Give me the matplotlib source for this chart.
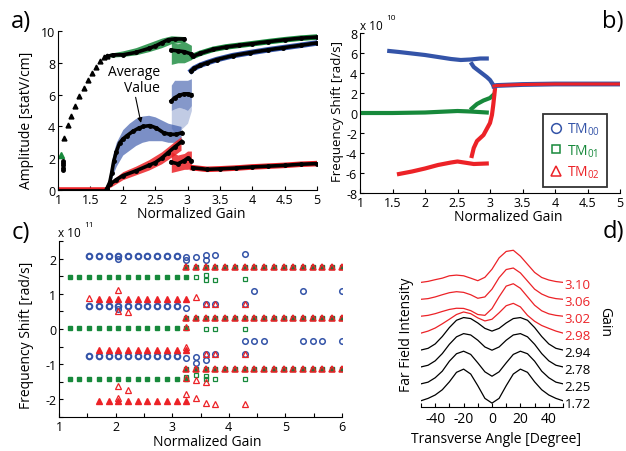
import matplotlib
matplotlib.use("Agg")
import matplotlib.pyplot as plt
from matplotlib.lines import Line2D

plt.rcParams["font.family"] = ["Open Sans", "DejaVu Sans"]
plt.rcParams["mathtext.fontset"] = "custom"
plt.rcParams["mathtext.rm"] = "Open Sans"
plt.rcParams["axes.unicode_minus"] = False

BLUE = "#3454a8"
GREEN = "#17893b"
RED = "#ec2227"

# ---------------- panel a: mode amplitudes ----------------
a_zero_g = [1.0, 1.75]
a_zero_v = [0.0, 0.0]
a_start_g = [1.08, 1.08, 1.08, 1.08, 1.08]
a_start_v = [1.25, 1.4, 1.55, 1.7, 1.85]

# TM01 (top curve)
a_tri_g = [1.10, 1.15, 1.20, 1.27, 1.33, 1.40, 1.46, 1.53, 1.59, 1.65, 1.71, 1.76]
a_tri_v = [3.3, 4.1, 4.65, 5.3, 5.9, 6.4, 6.9, 7.35, 7.75, 8.1, 8.35, 8.45]
a01_g1 = [1.76, 1.85, 2.0, 2.2, 2.4, 2.5, 2.6, 2.7, 2.8, 2.95]
a01_v1 = [8.4, 8.5, 8.5, 8.65, 8.9, 9.05, 9.25, 9.45, 9.5, 9.5]
a01_cg1 = [1.8, 2.0, 2.2, 2.4, 2.6, 2.75, 2.95]
a01_up1 = [8.6, 8.75, 8.95, 9.25, 9.55, 9.7, 9.65]
a01_lo1 = [8.35, 8.4, 8.5, 8.7, 8.95, 9.2, 9.3]
a01_g2 = [2.75, 2.85, 2.95, 3.06]
a01_v2 = [8.8, 8.75, 8.7, 8.55]
a01_up2 = [9.25, 9.2, 9.35, 9.1]
a01_lo2 = [7.9, 8.0, 8.0, 8.2]
a01_g3 = [3.08, 3.2, 3.4, 3.6, 3.8, 4.0, 4.25, 4.5, 4.75, 5.0]
a01_v3 = [8.4, 8.6, 8.85, 9.0, 9.1, 9.2, 9.33, 9.45, 9.55, 9.62]

# TM00 (middle curve)
a00_g1 = [1.75, 1.80, 1.83, 1.86, 1.90, 1.95, 2.00, 2.06, 2.16, 2.25, 2.32,
          2.42, 2.52, 2.63, 2.73, 2.83, 2.91]
a00_v1 = [0.05, 0.5, 1.1, 1.8, 2.4, 2.95, 3.2, 3.4, 3.7, 3.9, 4.0,
          4.05, 3.9, 3.6, 3.5, 3.5, 3.6]
a00_cg1 = [1.78, 1.85, 1.9, 2.0, 2.1, 2.2, 2.3, 2.4, 2.5, 2.6, 2.7, 2.8, 2.9]
a00_up1 = [0.6, 2.3, 3.0, 3.8, 4.2, 4.5, 4.65, 4.7, 4.6, 4.4, 4.2, 4.1, 4.0]
a00_lo1 = [0.1, 1.0, 1.5, 2.2, 2.5, 2.8, 3.0, 3.1, 3.1, 3.1, 3.0, 3.0, 3.1]
a00_g2 = [2.75, 2.80, 2.87, 2.95, 3.00, 3.06]
a00_v2 = [5.6, 5.8, 5.95, 6.05, 6.05, 6.0]
a00_up2 = [6.6, 6.9, 6.9, 6.9, 6.9, 7.0]
a00_mid2 = [5.0, 5.1, 5.2, 5.1, 5.0, 5.3]
a00_lo2 = [3.9, 3.6, 3.7, 4.0, 4.2, 5.0]
a00_g3 = [3.06, 3.10, 3.20, 3.30, 3.45, 3.70, 3.97, 4.25, 4.48, 4.75, 5.0]
a00_v3 = [7.5, 7.65, 7.85, 8.0, 8.2, 8.45, 8.64, 8.82, 8.95, 9.1, 9.25]

# TM02 (bottom curve)
a02_g1 = [1.75, 1.80, 1.90, 2.00, 2.20, 2.40, 2.50, 2.60, 2.70, 2.80, 2.91]
a02_v1 = [0.05, 0.35, 0.65, 0.9, 1.2, 1.55, 1.72, 2.0, 2.35, 2.7, 3.05]
a02_cg1 = [1.78, 2.0, 2.2, 2.4, 2.6, 2.8, 2.9]
a02_up1 = [0.45, 1.15, 1.5, 1.9, 2.4, 3.05, 3.35]
a02_lo1 = [0.1, 0.65, 0.95, 1.25, 1.65, 2.2, 2.5]
a02_g2 = [2.75, 2.85, 2.95, 3.0, 3.06]
a02_v2 = [1.75, 1.65, 1.85, 2.0, 1.85]
a02_up2 = [2.4, 2.2, 2.3, 2.45, 2.45]
a02_lo2 = [1.1, 1.2, 1.3, 1.3, 1.35]
a02_g3 = [3.08, 3.3, 3.5, 3.75, 4.0, 4.25, 4.5, 4.75, 5.0]
a02_v3 = [1.4, 1.3, 1.33, 1.38, 1.45, 1.5, 1.55, 1.62, 1.66]

# ---------------- panel b: frequency shift (x 1e10 rad/s) ----------------
b00_g1 = [1.45, 1.6, 1.8, 2.0, 2.2, 2.4, 2.55, 2.7, 2.85, 2.95]
b00_v1 = [6.2, 6.1, 5.95, 5.8, 5.6, 5.4, 5.3, 5.35, 5.45, 5.45]
b00_g2 = [2.72, 2.75, 2.8, 2.85, 2.9, 2.95, 3.0, 3.03, 3.06]
b00_v2 = [4.9, 4.6, 4.35, 4.1, 3.85, 3.6, 3.3, 3.0, 2.7]
b01_g1 = [1.0, 1.5, 2.0, 2.5, 2.7, 2.95]
b01_v1 = [0.0, 0.0, 0.05, 0.2, 0.15, 0.05]
b01_g2 = [2.72, 2.8, 2.9, 3.0, 3.05]
b01_v2 = [0.45, 0.9, 1.25, 1.5, 1.8]
b02_g1 = [1.6, 1.8, 2.0, 2.2, 2.4, 2.5, 2.6, 2.75, 2.95]
b02_v1 = [-6.1, -5.85, -5.55, -5.2, -4.95, -4.85, -4.95, -5.1, -5.05]
b02_g2 = [2.72, 2.75, 2.8, 2.9, 2.95, 3.0, 3.03, 3.05, 3.08]
b02_v2 = [-4.3, -3.5, -2.8, -2.2, -1.6, -1.0, -0.2, 0.8, 2.6]
b_lock_g = [3.06, 3.1, 3.5, 4.0, 4.5, 5.0]
b_lock_v = [2.7, 2.75, 2.85, 2.9, 2.9, 2.9]

# ---------------- panel c: frequency shift (x 1e11 rad/s) ----------------
c_gain = [1.19, 1.36, 1.53, 1.70, 1.88, 2.05, 2.22, 2.39, 2.56, 2.73, 2.90,
          3.08, 3.25, 3.42, 3.59, 3.76, 3.94, 4.11, 4.28, 4.45, 4.62, 4.80,
          4.97, 5.14, 5.31, 5.48, 5.65, 5.82, 6.00]
c00_levels = [2.08, 0.65, -0.78]
c01_levels = [1.48, 0.02, -1.43]
c02_levels = [0.85, -0.60, -2.05]
c_lock_levels = [1.75, 0.30, -1.15]
c00_xg = [2.05, 2.05, 3.25, 3.25, 3.25, 3.25, 3.42, 3.42, 3.42, 3.59, 3.59,
          3.59, 3.59, 3.59, 3.76, 3.76, 3.76, 4.28, 4.28, 4.28, 4.28, 4.45,
          4.45, 4.62, 5.31, 5.31, 5.48, 5.65, 6.00, 6.00]
c00_xf = [2.00, 0.58, 2.05, 1.95, 0.60, -0.82, 2.05, -0.80, -0.98, 2.10, 1.97,
          0.70, -0.70, -0.88, 2.10, 0.70, -0.70, 2.12, 0.70, -0.70, -0.34, 1.07,
          -0.34, -0.34, 1.07, -0.34, -0.34, -0.34, 1.07, -0.34]
c01_xg = [3.25, 3.42, 3.42, 3.59, 3.59, 3.59, 3.59, 3.59, 3.76, 3.76, 3.76,
          4.28, 4.28, 4.28]
c01_xf = [-1.36, 1.48, -1.30, 1.54, 1.40, 0.00, -1.34, -1.43, 1.40, 0.00,
          -1.42, 1.41, 0.00, -1.42]
c02_xg = [1.53, 2.05, 2.05, 2.05, 2.05, 2.22, 2.22, 3.25, 3.25, 3.25, 3.25,
          3.42, 3.42, 3.42, 3.59, 3.59, 3.59, 3.59, 3.76, 3.76, 3.76, 4.28,
          4.28, 4.28]
c02_xf = [0.88, 1.10, 0.50, -1.62, -1.95, 0.48, -1.72, 0.07, -0.50, -1.40,
          -1.85, 0.90, -1.45, -1.95, 0.70, -0.70, -1.50, -2.10, 0.70, -0.70,
          -2.12, 0.70, -0.70, -2.12]

# ---------------- panel d: far field profiles ----------------
d_angle = [-50, -45, -40, -35, -30, -25, -20, -15, -10, -5, 0,
           5, 10, 15, 20, 25, 30, 35, 40, 45, 50]
d_gain_labels = ["1.72", "2.25", "2.78", "2.94", "2.98", "3.02", "3.06", "3.10"]
d_profiles = [
    [0, 0.14, 0.34, 0.65, 1.12, 1.68, 1.87, 1.58, 0.89, 0.14, -0.14,
     0.14, 0.89, 1.58, 1.87, 1.68, 1.12, 0.65, 0.34, 0.14, 0],
    [0, 0.10, 0.36, 0.75, 1.34, 1.78, 1.93, 1.74, 1.24, 0.71, 0.45,
     0.71, 1.24, 1.74, 1.93, 1.78, 1.34, 0.75, 0.36, 0.10, 0],
    [0, 0.10, 0.36, 0.79, 1.34, 1.78, 1.97, 1.89, 1.58, 1.18, 0.99,
     1.18, 1.58, 1.89, 1.97, 1.78, 1.34, 0.79, 0.36, 0.10, 0],
    [0, 0.10, 0.36, 0.80, 1.33, 1.76, 1.92, 1.86, 1.60, 1.28, 1.12,
     1.28, 1.60, 1.86, 1.92, 1.76, 1.33, 0.80, 0.36, 0.10, 0],
    [0, 0.12, 0.30, 0.55, 0.82, 1.10, 1.25, 1.15, 0.90, 0.72, 0.82,
     1.20, 1.62, 1.76, 1.55, 1.05, 0.70, 0.45, 0.28, 0.12, 0],
    [0, 0.05, 0.15, 0.28, 0.40, 0.47, 0.46, 0.33, 0.10, 0.05, 0.45,
     1.15, 1.78, 1.92, 1.65, 1.15, 0.65, 0.32, 0.14, 0.05, 0],
    [0, 0.04, 0.14, 0.27, 0.39, 0.45, 0.41, 0.27, 0.06, 0.14, 0.60,
     1.28, 1.76, 1.85, 1.56, 1.08, 0.60, 0.31, 0.13, 0.04, 0],
    [0, 0.06, 0.16, 0.25, 0.39, 0.43, 0.39, 0.25, 0.10, 0.30, 0.78,
     1.45, 1.83, 1.90, 1.55, 1.07, 0.59, 0.29, 0.14, 0.05, 0],
]
d_colors = ["black", "black", "black", "black", RED, RED, RED, RED]

W, H = 626, 452


def px_rect(l, t, r, b):
    return [l / W, 1 - b / H, (r - l) / W, (b - t) / H]


def style(ax):
    for s in ["top", "right"]:
        ax.spines[s].set_visible(False)
    for s in ["left", "bottom"]:
        ax.spines[s].set_linewidth(0.8)
    ax.tick_params(which="both", direction="in", length=3, width=0.8,
                   labelsize=9, pad=2)


fig = plt.figure(figsize=(6.26, 4.52), dpi=100)

# ---- a ----
ax = fig.add_axes(px_rect(58, 32, 317, 191))
style(ax)
ax.fill_between(a01_cg1, a01_lo1, a01_up1, color=GREEN, lw=0, alpha=0.85)
ax.fill_between(a01_g2, a01_lo2, a01_up2, color=GREEN, lw=0, alpha=0.8)
ax.fill_between(a00_cg1, a00_lo1, a00_up1, color=BLUE, lw=0, alpha=0.65)
ax.fill_between(a00_g2, a00_mid2, a00_up2, color=BLUE, lw=0, alpha=0.6)
ax.fill_between(a00_g2, a00_lo2, a00_mid2, color=BLUE, lw=0, alpha=0.3)
ax.fill_between(a02_cg1, a02_lo1, a02_up1, color=RED, lw=0, alpha=0.85)
ax.fill_between(a02_g2, a02_lo2, a02_up2, color=RED, lw=0, alpha=0.85)
ax.plot(a01_g3, a01_v3, color=GREEN, lw=4)
ax.plot(a00_g3, a00_v3, color=BLUE, lw=4)
ax.plot(a02_g3, a02_v3, color=RED, lw=4)
ax.plot(a_zero_g, a_zero_v, color=RED, lw=4)
ax.plot(a_zero_g, a_zero_v, color="black", lw=2)
ax.plot([1.05], [2.2], ls="none", marker="^", ms=4, color=GREEN)
ax.plot(a_start_g, a_start_v, ls="none", marker="o", ms=2.5, color="black")
ax.plot(a_tri_g, a_tri_v, ls="none", marker="^", ms=3.5, color="black")
for g, v in [(a01_g1, a01_v1), (a01_g2, a01_v2), (a01_g3, a01_v3),
             (a00_g1, a00_v1), (a00_g2, a00_v2), (a00_g3, a00_v3),
             (a02_g1, a02_v1), (a02_g2, a02_v2), (a02_g3, a02_v3)]:
    ax.plot(g, v, color="black", lw=2.6, marker="o", ms=2.5)
ax.text(2.575, 6.95, "Average\nValue", ha="right", va="center",
        multialignment="right", fontsize=10, linespacing=1.15)
ax.annotate("", xy=(2.29, 4.05), xytext=(2.19, 6.0),
            arrowprops=dict(arrowstyle="-|>", color="black", lw=0.8,
                            mutation_scale=7))
ax.set_xlim(1, 5)
ax.set_ylim(0, 10)
ax.set_xticks([1, 1.5, 2, 2.5, 3, 3.5, 4, 4.5, 5])
ax.set_xticklabels(["1", "1.5", "2", "2.5", "3", "3.5", "4", "4.5", "5"])
ax.set_yticks([0, 2, 4, 6, 8, 10])

# ---- b ----
ax = fig.add_axes(px_rect(360, 34, 620, 194))
style(ax)
ax.plot(b00_g1, b00_v1, color=BLUE, lw=3)
ax.plot(b00_g2, b00_v2, color=BLUE, lw=3)
ax.plot(b01_g1, b01_v1, color=GREEN, lw=3)
ax.plot(b01_g2, b01_v2, color=GREEN, lw=3)
ax.plot(b02_g1, b02_v1, color=RED, lw=3)
ax.plot(b02_g2, b02_v2, color=RED, lw=3)
ax.plot(b_lock_g, b_lock_v, color=BLUE, lw=3.5)
ax.plot(b_lock_g, b_lock_v, color=RED, lw=2.2)
ax.set_xlim(1, 5)
ax.set_ylim(-8, 8)
ax.set_xticks([1, 1.5, 2, 2.5, 3, 3.5, 4, 4.5, 5])
ax.set_xticklabels(["1", "1.5", "2", "2.5", "3", "3.5", "4", "4.5", "5"])
ax.set_yticks([-8, -6, -4, -2, 0, 2, 4, 6, 8])
handles = [Line2D([], [], ls="none", marker="o", mfc="none", mec=BLUE, ms=7, mew=1.1),
           Line2D([], [], ls="none", marker="s", mfc="none", mec=GREEN, ms=6, mew=1.1),
           Line2D([], [], ls="none", marker="^", mfc="none", mec=RED, ms=7, mew=1.1)]
leg = ax.legend(handles, [r"TM$_{\mathregular{00}}$", r"TM$_{\mathregular{01}}$",
                          r"TM$_{\mathregular{02}}$"],
                loc="upper left", bbox_to_anchor=(0.704, 0.494), fontsize=10,
                labelcolor=[BLUE, GREEN, RED], frameon=True, fancybox=False,
                handlelength=0.8, handletextpad=0.4, borderpad=0.5,
                labelspacing=0.35, borderaxespad=0)
leg.get_frame().set_edgecolor("black")
leg.get_frame().set_linewidth(1.3)

# ---- c ----
ax = fig.add_axes(px_rect(59, 242, 342, 418))
style(ax)
for lv in c01_levels:
    ax.plot(c_gain[0:13], [lv] * 13, ls="none", marker="s", ms=3.5,
            mfc=GREEN, mec=GREEN)
for lv in c_lock_levels:
    n = len(c_gain[12:])
    ax.plot(c_gain[12:], [lv] * n, ls="none", marker="s", ms=3.5,
            mfc="#2a6e3a", mec="#2a6e3a")
ax.plot(c01_xg, c01_xf, ls="none", marker="s", ms=3.2, mfc="none",
        mec=GREEN, mew=0.9)
for lv in c00_levels:
    ax.plot(c_gain[2:12], [lv] * 10, ls="none", marker="o", ms=4,
            mfc="none", mec=BLUE, mew=1.5)
ax.plot(c00_xg, c00_xf, ls="none", marker="o", ms=4, mfc="none",
        mec=BLUE, mew=1.1)
for lv in c02_levels:
    ax.plot(c_gain[3:13], [lv] * 10, ls="none", marker="^", ms=5,
            mfc=RED, mec=RED)
for lv in c_lock_levels:
    n = len(c_gain[12:])
    ax.plot(c_gain[12:], [lv] * n, ls="none", marker="^", ms=5,
            mfc="none", mec=RED, mew=1.1)
ax.plot(c02_xg, c02_xf, ls="none", marker="^", ms=4.5, mfc="none",
        mec=RED, mew=0.9)
ax.set_xlim(1, 6)
ax.set_ylim(-2.5, 2.5)
ax.set_xticks([1, 2, 3, 4, 5, 6])
ax.set_xticks([1.5, 2.5, 3.5, 4.5, 5.5], minor=True)
ax.set_yticks([-2, -1, 0, 1, 2])
ax.set_yticks([-2.5, -1.5, -0.5, 0.5, 1.5, 2.5], minor=True)

# ---- d ----
ax = fig.add_axes(px_rect(421, 245, 563, 408))
for s in ["top", "right", "left"]:
    ax.spines[s].set_visible(False)
ax.spines["bottom"].set_linewidth(0.8)
for i, (prof, col, lab) in enumerate(zip(d_profiles, d_colors, d_gain_labels)):
    ax.plot(d_angle, [p + i for p in prof], color=col, lw=0.9)
    ax.text(51.0, i - 0.15, lab, color=col, fontsize=9.5, ha="left",
            va="center", clip_on=False)
ax.set_xlim(-50, 50)
ax.set_ylim(-0.37, 9.27)
ax.set_yticks([])
ax.set_xticks(list(range(-50, 51, 10)))
ax.set_xticklabels(["", "-40", "", "-20", "", "0", "", "20", "", "40", ""])
ax.tick_params(direction="in", length=3, width=0.8, labelsize=10, pad=3)

# ---- labels ----
lab = dict(ha="center", va="center", fontsize=10)
fig.text(27 / W, 1 - 120 / H, "Amplitude [statV/cm]", rotation=90, **lab)
fig.text(191 / W, 1 - 215 / H, "Normalized Gain", **lab)
fig.text(337 / W, 1 - 112 / H, "Frequency Shift [rad/s]", rotation=90,
         ha="center", va="center", fontsize=9.5)
fig.text(508 / W, 1 - 218 / H, "Normalized Gain", **lab)
fig.text(27 / W, 1 - 335 / H, "Frequency Shift [rad/s]", rotation=90, **lab)
fig.text(207 / W, 1 - 443 / H, "Normalized Gain", **lab)
fig.text(407 / W, 1 - 335 / H, "Far Field Intensity", rotation=90, **lab)
fig.text(496 / W, 1 - 440 / H, "Transverse Angle [Degree]", **lab)
fig.text(605 / W, 1 - 322 / H, "Gain", rotation=-90, **lab)

fig.text(360 / W, 1 - 27 / H, "x 10", fontsize=8.5, va="center")
fig.text(386 / W, 1 - 19 / H, "10", fontsize=6, va="center")
fig.text(58 / W, 1 - 234 / H, "x 10", fontsize=8.5, va="center")
fig.text(84 / W, 1 - 226 / H, "11", fontsize=6, va="center")

big = dict(ha="center", va="center", fontsize=17)
fig.text(21 / W, 1 - 22 / H, "a)", **big)
fig.text(613 / W, 1 - 22 / H, "b)", **big)
fig.text(21 / W, 1 - 233 / H, "c)", **big)
fig.text(613 / W, 1 - 232 / H, "d)", **big)

fig.savefig("out.png", dpi=100)
plt.close(fig)
